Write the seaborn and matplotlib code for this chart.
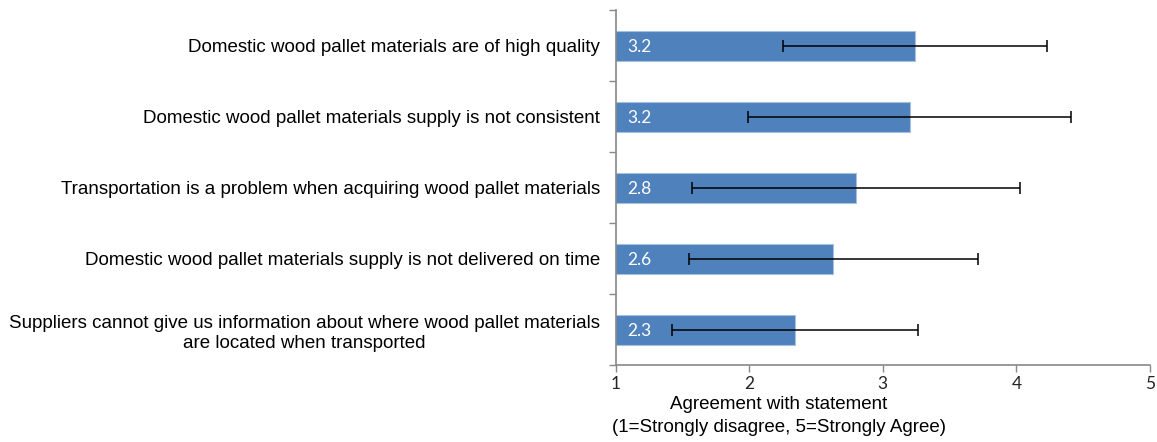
import matplotlib
matplotlib.use("Agg")
import matplotlib.pyplot as plt
import seaborn as sns
import pandas as pd
from matplotlib.ticker import FixedLocator

statements = [
    "Domestic wood pallet materials are of high quality",
    "Domestic wood pallet materials supply is not consistent",
    "Transportation is a problem when acquiring wood pallet materials",
    "Domestic wood pallet materials supply is not delivered on time",
    "Suppliers cannot give us information about where wood pallet materials\nare located when transported",
]
means = [3.24, 3.20, 2.80, 2.63, 2.34]
errors = [0.99, 1.21, 1.23, 1.08, 0.92]
value_labels = ["3.2", "3.2", "2.8", "2.6", "2.3"]
x_ticks = [1, 2, 3, 4, 5]

sns.set_theme(style="white")
plt.rcParams["font.family"] = ["Liberation Sans", "DejaVu Sans"]

df = pd.DataFrame({"statement": statements, "mean": means})

fig = plt.figure(figsize=(11.57, 4.42), dpi=100)
ax = fig.add_axes([0.532, 0.174, 0.462, 0.803])

sns.barplot(data=df, x="mean", y="statement", orient="h", color="#4F81BD",
            saturation=1, width=0.42, edgecolor="#A7C0E0", linewidth=0.8, ax=ax)
ax.errorbar(means, list(range(len(means))), xerr=errors, fmt="none",
            ecolor="black", elinewidth=1.1, capsize=4, capthick=1.1, zorder=5)

for i, lab in enumerate(value_labels):
    ax.text(1.09, i + 0.02, lab, color="white", va="center", ha="left",
            fontsize=12.5, family=["Lato", "DejaVu Sans"], zorder=6)

ax.set_xlim(1, 5)
ax.set_ylim(len(means) - 0.5, -0.5)
ax.set_xticks(x_ticks)
ax.set_xticklabels([str(t) for t in x_ticks], family=["Lato", "DejaVu Sans"], fontsize=12.5)
ax.tick_params(axis="x", which="major", direction="out", length=5, width=1,
               color="#888888", pad=3, bottom=True)

ax.set_yticks(range(len(means)))
ax.set_yticklabels(statements, fontsize=13.5, ha="right", color="black",
                   multialignment="center", linespacing=1.3)
ax.tick_params(axis="y", which="major", length=0, pad=11)
ax.yaxis.set_minor_locator(FixedLocator([i - 0.5 for i in range(len(means) + 1)]))
ax.tick_params(axis="y", which="minor", direction="out", length=5, width=1,
               color="#888888", left=True)

for s in ["top", "right"]:
    ax.spines[s].set_visible(False)
for s in ["left", "bottom"]:
    ax.spines[s].set_color("#888888")
    ax.spines[s].set_linewidth(1.2)

ax.set_ylabel("")
ax.set_xlabel("Agreement with statement\n(1=Strongly disagree, 5=Strongly Agree)",
              fontsize=13.5, color="black", linespacing=1.4)
ax.xaxis.set_label_coords(0.305, -0.088, transform=ax.transAxes)
ax.xaxis.label.set_va("top")
ax.grid(False)

fig.savefig("out.png", dpi=100)
